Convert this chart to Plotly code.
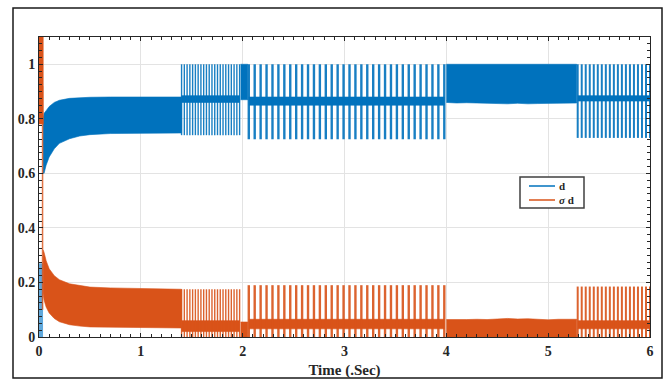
import numpy as np
import plotly.graph_objects as go

# ---------------- data ----------------
# start-up transient (time, value) envelopes, 0.04 .. 1.40 s
t_env = [0.04, 0.05, 0.07, 0.10, 0.15, 0.20, 0.30, 0.40, 0.50, 0.70, 1.00, 1.40]
d_hi  = [0.80, 0.82, 0.83, 0.845, 0.86, 0.868, 0.875, 0.878, 0.879, 0.88, 0.88, 0.88]
d_lo  = [0.60, 0.60, 0.63, 0.66, 0.69, 0.71, 0.727, 0.737, 0.742, 0.746, 0.748, 0.748]
s_hi  = [0.32, 0.31, 0.28, 0.25, 0.225, 0.21, 0.195, 0.188, 0.183, 0.18, 0.177, 0.175]
s_lo  = [0.16, 0.135, 0.11, 0.088, 0.068, 0.056, 0.045, 0.04, 0.037, 0.035, 0.034, 0.033]

# switching segments: start, end, number of pulses
seg_start = [1.40, 2.06, 5.29]
seg_end   = [1.97, 3.98, 6.00]
seg_count = [22, 34, 19]
# blue pulses: low, high ; dense band low/high
d_pulse_lo = [0.74, 0.725, 0.73]
d_pulse_hi = [1.00, 1.00, 1.00]
d_band_lo  = [0.86, 0.85, 0.865]
d_band_hi  = [0.885, 0.88, 0.885]
# orange pulses
s_pulse_lo = [0.0, 0.0, 0.0]
s_pulse_hi = [0.175, 0.19, 0.185]
s_band_lo  = [0.02, 0.03, 0.03]
s_band_hi  = [0.06, 0.065, 0.06]

# solid blocks
blk_t0 = [1.98, 4.00]
blk_t1 = [2.05, 5.28]
# small ripple on the edges of the 4.00-5.28 s block
rip_t  = [4.00, 4.10, 4.20, 4.30, 4.40, 4.50, 4.60, 4.70, 4.80, 4.90, 5.00, 5.10, 5.20, 5.28]
rip_d  = [0.860, 0.858, 0.859, 0.857, 0.858, 0.856, 0.855, 0.857, 0.855, 0.856, 0.857, 0.856, 0.857, 0.858]
rip_s  = [0.064, 0.063, 0.064, 0.065, 0.064, 0.066, 0.068, 0.066, 0.067, 0.065, 0.063, 0.065, 0.066, 0.065]
blk2_d = [0.87, 1.00]   # blue block 1.98-2.05 (low, high)
blk2_s = [0.00, 0.055]  # orange block 1.98-2.05

# first instants
init_t  = [0.0, 0.02, 0.035]
init_d  = [0.0, 0.27]
init_s1 = [0.78, 1.10]
init_s2 = [0.10, 0.92]

x_ticks = [0, 1, 2, 3, 4, 5, 6]
y_ticks = [0, 0.2, 0.4, 0.6, 0.8, 1.0]
y_labels = ["0", "0.2", "0.4", "0.6", "0.8", "1"]
legend_names = ["d", "<i>σ</i> d"]

# ---------------- styles ----------------
BLUE = "#0072BD"
ORANGE = "#D95319"
seg_width = [1.4, 2.4, 2.0]
FONT = "Liberation Serif"
PW, PH, ML, MT = 611, 300, 39, 37   # plot area in pixels

fig = go.Figure()

def band(x, lo, hi, color, opacity=1.0):
    xs = list(x) + list(x)[::-1]
    ys = list(hi) + list(lo)[::-1]
    fig.add_trace(go.Scatter(x=xs, y=ys, fill="toself", fillcolor=color, opacity=opacity,
                             line=dict(width=0.6, color=color), mode="lines",
                             hoverinfo="skip", showlegend=False))

def pulses(t0, t1, n, lo, hi, color, width, opacity=0.9):
    ts = np.linspace(t0, t1, n)
    xs, ys = [], []
    for t in ts:
        xs += [t, t, None]
        ys += [lo, hi, None]
    fig.add_trace(go.Scatter(x=xs, y=ys, mode="lines", opacity=opacity,
                             line=dict(color=color, width=width),
                             hoverinfo="skip", showlegend=False))

# ---- blue series d ----
fig.add_trace(go.Scatter(x=[init_t[1], init_t[1]], y=init_d, mode="lines",
                         line=dict(color="#5FA8DC", width=4), showlegend=False, hoverinfo="skip"))
band(t_env, d_lo, d_hi, BLUE)
for i in range(len(seg_start)):
    band([seg_start[i], seg_end[i]], [d_band_lo[i]] * 2, [d_band_hi[i]] * 2, BLUE)
    pulses(seg_start[i], seg_end[i], seg_count[i], d_pulse_lo[i], d_pulse_hi[i], BLUE, seg_width[i])
band([blk_t0[0], blk_t1[0]], [blk2_d[0]] * 2, [blk2_d[1]] * 2, BLUE)
band(rip_t, rip_d, [1.0] * len(rip_t), BLUE)

# ---- orange series sigma d ----
fig.add_trace(go.Scatter(x=[init_t[1], init_t[1]], y=init_s1, mode="lines",
                         line=dict(color=ORANGE, width=5), showlegend=False, hoverinfo="skip"))
fig.add_trace(go.Scatter(x=[init_t[2], init_t[2]], y=init_s2, mode="lines", opacity=0.8,
                         line=dict(color=ORANGE, width=1.5), showlegend=False, hoverinfo="skip"))
band(t_env, s_lo, s_hi, ORANGE)
for i in range(len(seg_start)):
    band([seg_start[i], seg_end[i]], [s_band_lo[i]] * 2, [s_band_hi[i]] * 2, ORANGE)
    pulses(seg_start[i], seg_end[i], seg_count[i], s_pulse_lo[i], s_pulse_hi[i], ORANGE, seg_width[i])
band([blk_t0[0], blk_t1[0]], [blk2_s[0]] * 2, [blk2_s[1]] * 2, ORANGE)
band(rip_t, [0.0] * len(rip_t), rip_s, ORANGE)

axis_common = dict(showline=True, linecolor="#262626", linewidth=1, mirror="ticks",
                   ticks="inside", ticklen=4, tickcolor="#262626", automargin=False,
                   showgrid=True, gridcolor="#e3e3e3", gridwidth=1, zeroline=False,
                   tickfont=dict(family=FONT, size=14, color="#262626"))

fig.update_xaxes(range=[0, 6], tickvals=x_ticks, ticktext=[str(v) for v in x_ticks],
                 ticklabelstandoff=1,
                 minor=dict(dtick=0.1, ticks="inside", ticklen=3, tickcolor="#262626", showgrid=False),
                 title=dict(text="<b>Time (.Sec)</b>", font=dict(family=FONT, size=15, color="#262626"),
                            standoff=6),
                 **axis_common)
fig.update_yaxes(range=[0, 1.1], tickvals=y_ticks, ticktext=y_labels,
                 minor=dict(dtick=0.025, ticks="inside", ticklen=3, tickcolor="#262626", showgrid=False),
                 **axis_common)

# hand-drawn legend box (pixel positions converted to paper coords)
def px(x):
    return (x - ML) / PW

def py(y):
    return (MT + PH - y) / PH

shapes = [
    dict(type="rect", xref="paper", yref="paper",
         x0=px(13), x1=px(662), y0=py(378), y1=py(8),
         line=dict(color="#1a1a1a", width=1.5), layer="below"),
    dict(type="rect", xref="paper", yref="paper",
         x0=px(520), x1=px(584), y0=py(208), y1=py(177),
         fillcolor="white", line=dict(color="#404040", width=1.5)),
    dict(type="line", xref="paper", yref="paper",
         x0=px(529), x1=px(555), y0=py(186), y1=py(186),
         line=dict(color=BLUE, width=1.5)),
    dict(type="line", xref="paper", yref="paper",
         x0=px(529), x1=px(555), y0=py(200), y1=py(200),
         line=dict(color=ORANGE, width=1.5)),
]
annotations = [
    dict(xref="paper", yref="paper", x=px(557), y=py(y0), text=name, showarrow=False,
         xanchor="left", yanchor="middle",
         font=dict(family=FONT, size=11, color="#262626", weight="bold"))
    for name, y0 in zip(legend_names, [186, 200])
]

fig.update_layout(
    width=668, height=379,
    margin=dict(l=ML, r=668 - ML - PW, t=MT, b=379 - MT - PH, autoexpand=False),
    plot_bgcolor="white", paper_bgcolor="white",
    font=dict(family=FONT, size=14, color="#262626", weight="bold"),
    showlegend=False,
    shapes=shapes, annotations=annotations,
)

fig.write_html("out.html")
